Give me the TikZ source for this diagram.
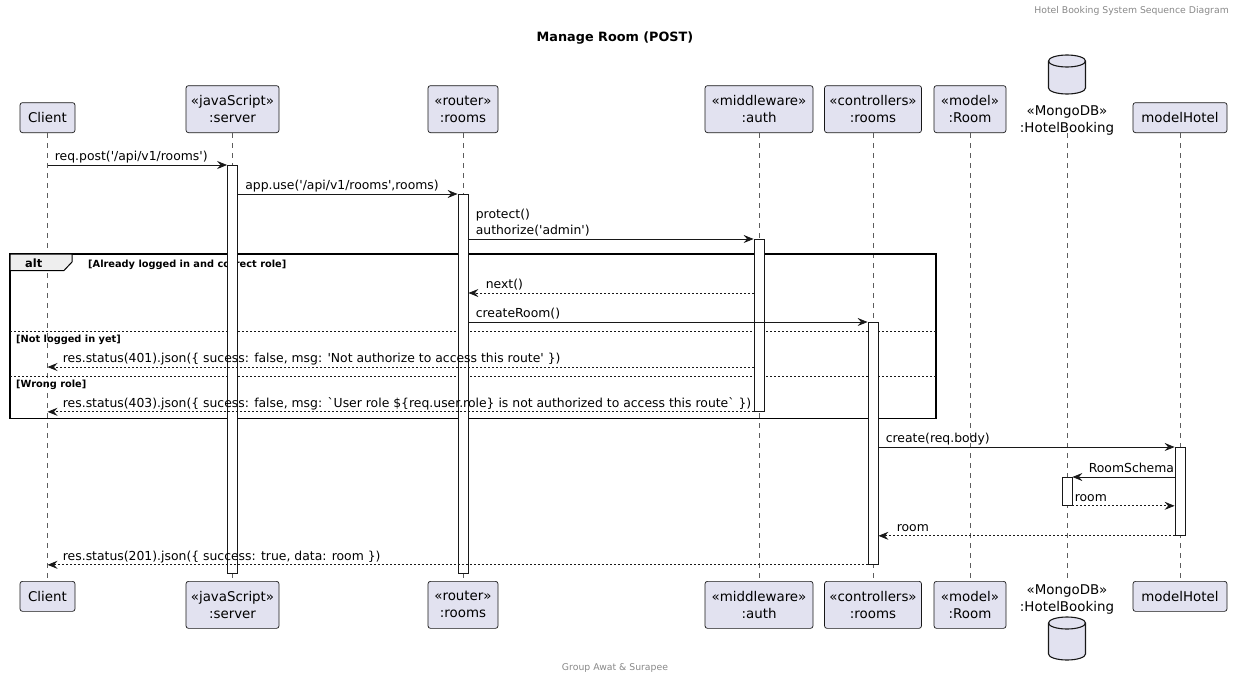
\documentclass[tikz,border=0pt]{standalone}
\usepackage{fontspec}
\setmainfont{DejaVu Sans}[Ligatures=TeXOff]
\usetikzlibrary{positioning, arrows.meta}

\definecolor{partfill}{HTML}{E2E2F0}
\definecolor{partline}{HTML}{181818}
\definecolor{tabfill}{HTML}{EEEEEE}
\definecolor{notegray}{HTML}{888888}

\begin{document}
\begin{tikzpicture}[x=1pt,y=-1pt,
   part/.style={draw=partline,fill=partfill,rounded corners=2.5pt,line width=0.7pt,
                align=center,inner sep=0pt,font=\fontsize{13.4}{17}\selectfont},
   dbshape/.style={draw=partline,fill=partfill,line width=1.1pt},
   dbtext/.style={align=center,inner sep=0pt,font=\fontsize{13.4}{17}\selectfont},
   life/.style={draw=partline!70,line width=0.5pt,dash pattern=on 5pt off 5pt},
   act/.style={draw=partline,fill=white,line width=0.8pt,minimum width=10pt,inner sep=0pt,anchor=north},
   call/.style={draw=partline,line width=0.8pt,-{Stealth[length=10pt,width=8pt,inset=3.5pt]}},
   reply/.style={call,dash pattern=on 2pt off 2pt},
   lbl/.style={inner sep=0pt,align=left,anchor=base west,font=\fontsize{12.4}{16}\selectfont},
   guard/.style={inner sep=0pt,anchor=base west,font=\bfseries\fontsize{9.8}{12}\selectfont},
   frame/.style={draw=black,line width=1.5pt},
   sep/.style={draw=partline,line width=0.8pt,dash pattern=on 2pt off 2pt},
   note/.style={inner sep=0pt,text=notegray,font=\fontsize{9.3}{11}\selectfont}
]
   \useasboundingbox (0,0) rectangle (1237,680);

   % header, title, footer
   \node[note,anchor=base east] (hdr) at (1229,13.5) {Hotel Booking System Sequence Diagram};
   \node[anchor=base,inner sep=0pt,font=\bfseries\fontsize{12.8}{16}\selectfont] (title) at (615,41) {Manage Room (POST)};
   \node[note,anchor=base] (ftr) at (615,670.5) {Group Awat \& Surapee};

   % participants (top)
   \node[part,minimum width=55pt,minimum height=30pt,anchor=south] (cliT) at (47.5,133) {Client};
   \node[part,minimum width=93pt,minimum height=47pt,anchor=south] (srvT) at (232.5,133) {«javaScript»\\:server};
   \node[part,minimum width=70pt,minimum height=47pt,anchor=south] (rtrT) at (463,133) {«router»\\:rooms};
   \node[part,minimum width=108pt,minimum height=47pt,anchor=south] (authT) at (759,133) {«middleware»\\:auth};
   \node[part,minimum width=97pt,minimum height=47pt,anchor=south] (ctlT) at (873,133) {«controllers»\\:rooms};
   \node[part,minimum width=72pt,minimum height=47pt,anchor=south] (roomT) at (970,133) {«model»\\:Room};
   \node[dbtext,anchor=south] (dbT) at (1067,135) {«MongoDB»\\:HotelBooking};
   \coordinate (dbTcan) at (1067,61);
   \node[part,minimum width=94pt,minimum height=30pt,anchor=south] (htlT) at (1180,133) {modelHotel};

   % participants (bottom)
   \node[part,minimum width=55pt,minimum height=30pt,anchor=north] (cliB) at (47.5,581) {Client};
   \node[part,minimum width=93pt,minimum height=47pt,anchor=north] (srvB) at (232.5,581) {«javaScript»\\:server};
   \node[part,minimum width=70pt,minimum height=47pt,anchor=north] (rtrB) at (463,581) {«router»\\:rooms};
   \node[part,minimum width=108pt,minimum height=47pt,anchor=north] (authB) at (759,581) {«middleware»\\:auth};
   \node[part,minimum width=97pt,minimum height=47pt,anchor=north] (ctlB) at (873,581) {«controllers»\\:rooms};
   \node[part,minimum width=72pt,minimum height=47pt,anchor=north] (roomB) at (970,581) {«model»\\:Room};
   \node[dbtext,anchor=north] (dbB) at (1067,585) {«MongoDB»\\:HotelBooking};
   \coordinate (dbBcan) at (1067,623);
   \node[part,minimum width=94pt,minimum height=30pt,anchor=north] (htlB) at (1180,581) {modelHotel};

   % database cans
   \draw[dbshape] ([xshift=-18.5pt]dbTcan) -- ++(0,27) arc[start angle=180,end angle=360,x radius=18.5pt,y radius=6pt]
        -- ++(0,-27) arc[start angle=0,end angle=180,x radius=18.5pt,y radius=6pt] -- cycle;
   \draw[dbshape,fill=none] ([xshift=-18.5pt]dbTcan) arc[start angle=180,end angle=360,x radius=18.5pt,y radius=6pt];
   \draw[dbshape] ([xshift=-18.5pt]dbBcan) -- ++(0,31) arc[start angle=180,end angle=360,x radius=18.5pt,y radius=6pt]
        -- ++(0,-31) arc[start angle=0,end angle=180,x radius=18.5pt,y radius=6pt] -- cycle;
   \draw[dbshape,fill=none] ([xshift=-18.5pt]dbBcan) arc[start angle=180,end angle=360,x radius=18.5pt,y radius=6pt];

   % lifelines
   \path[life]
   (cliT) edge (cliB)
   (srvT) edge (srvB)
   (rtrT) edge (rtrB)
   (authT) edge (authB)
   (ctlT) edge (ctlB)
   (roomT) edge (roomB)
   (dbT.south |- cliT.south) edge (dbB.north |- cliB.north)
   (htlT) edge (htlB);

   % alt frame
   \draw[frame] (10,254) rectangle (936,418.5);
   \draw[fill=tabfill,draw=black,line width=1pt] (10,254) -- (72,254) -- (72,262) -- (64,270.5) -- (10,270.5) -- cycle;
   \node[guard,font=\bfseries\fontsize{11.4}{14}\selectfont] (altTag) at (25,267) {alt};
   \node[guard] (g1) at (88,267) {[Already logged in and correct role]};
   \draw[sep] (10,331) -- (936,331);
   \node[guard] (g2) at (16,342) {[Not logged in yet]};
   \draw[sep] (10,376) -- (936,376);
   \node[guard] (g3) at (16,387) {[Wrong role]};

   % activations
   \node[act,minimum height=408pt] (srvAct) at (232.5,165) {};
   \node[act,minimum height=379pt] (rtrAct) at (463,194) {};
   \node[act,minimum height=172pt] (authAct) at (759,239) {};
   \node[act,minimum height=242pt] (ctlAct) at (873,322) {};
   \node[act,minimum height=88pt] (htlAct) at (1180,447) {};
   \node[act,minimum height=28pt] (dbAct) at (1067,477) {};

   % messages
   \draw[call] (cliT.south |- srvAct.north) -- node[lbl,pos=0,xshift=7pt,yshift=4.7pt] {req.post('/api/v1/rooms')} (srvAct.north west);
   \draw[call] (srvAct.east |- rtrAct.north) -- node[lbl,pos=0,xshift=7pt,yshift=4.7pt] {app.use('/api/v1/rooms',rooms)} (rtrAct.north west);
   \draw[call] (rtrAct.east |- authAct.north) -- node[lbl,pos=0,xshift=7pt,yshift=4.7pt] {protect()\\authorize('admin')} (authAct.north west);
   \draw[reply] (authAct.west |- 0,293) -- node[lbl,pos=1,xshift=17pt,yshift=4.7pt] {next()} (rtrAct.east |- 0,293);
   \draw[call] (rtrAct.east |- ctlAct.north) -- node[lbl,pos=0,xshift=7pt,yshift=4.7pt] {createRoom()} (ctlAct.north west);
   \draw[reply] (authAct.west |- 0,367) -- node[lbl,pos=1,xshift=15pt,yshift=4.7pt] {res.status(401).json(\{ sucess: false, msg: 'Not authorize to access this route' \})} (cliT.south |- 0,367);
   \draw[reply] (authAct.south west) -- node[lbl,pos=1,xshift=15pt,yshift=4.7pt] {res.status(403).json(\{ sucess: false, msg: `User role \$\{req.user.role\} is not authorized to access this route` \})} (cliT.south |- authAct.south);
   \draw[call] (ctlAct.east |- htlAct.north) -- node[lbl,pos=0,xshift=7pt,yshift=4.7pt] {create(req.body)} (htlAct.north west);
   \draw[call] (htlAct.west |- dbAct.north) -- node[lbl,pos=1,xshift=16pt,yshift=4.7pt] {RoomSchema} (dbAct.north east);
   \draw[reply] (dbAct.south east) -- node[lbl,pos=0,xshift=2pt,yshift=4.7pt] {room} (htlAct.west |- dbAct.south);
   \draw[reply] (htlAct.south west) -- node[lbl,pos=1,xshift=18pt,yshift=4.7pt] {room} (ctlAct.east |- htlAct.south);
   \draw[reply] (ctlAct.south west) -- node[lbl,pos=1,xshift=15pt,yshift=4.7pt] {res.status(201).json(\{ success: true, data: room \})} (cliT.south |- ctlAct.south);
\end{tikzpicture}
\end{document}
